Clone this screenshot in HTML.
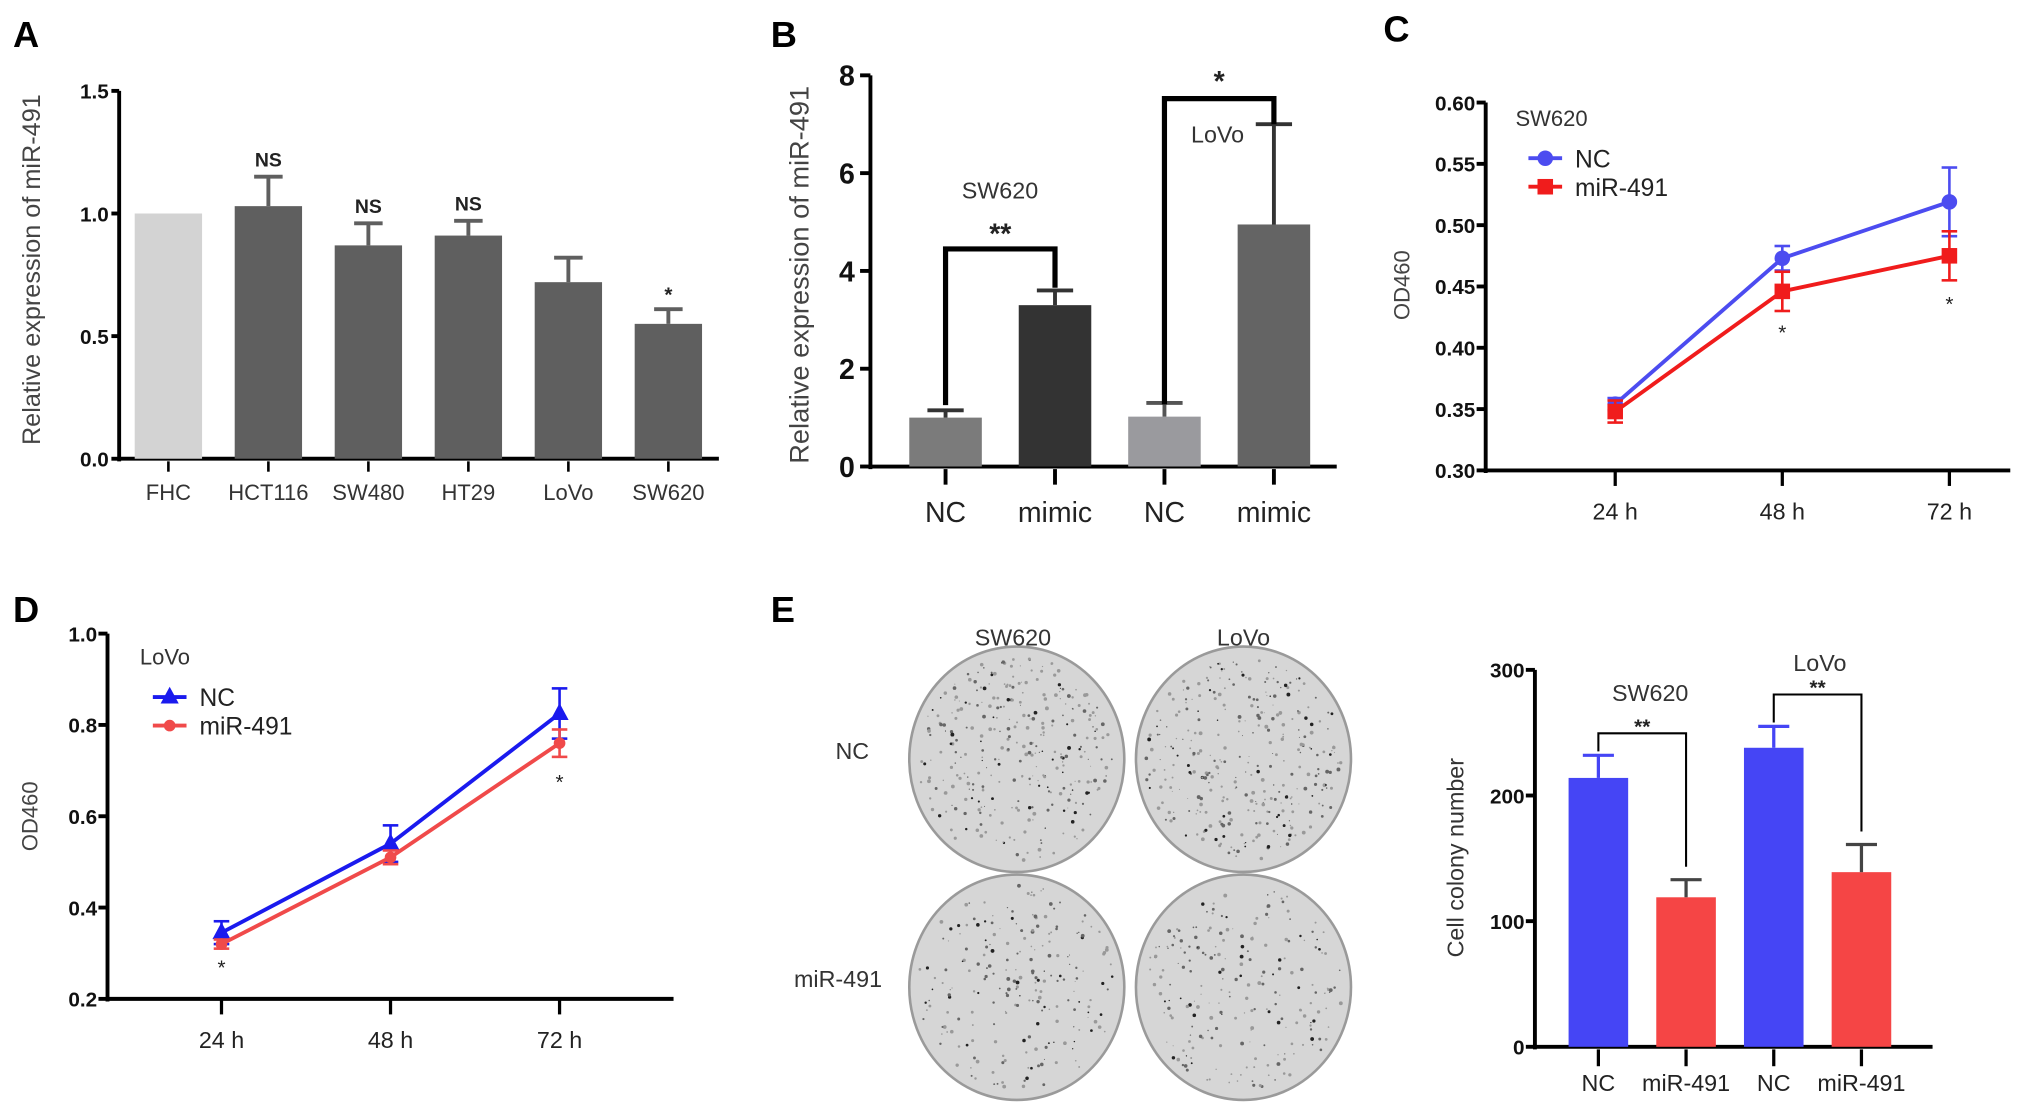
<!DOCTYPE html>
<html><head><meta charset="utf-8"><style>
html,body{margin:0;padding:0;background:#fff}
svg{display:block}
text{font-family:"Liberation Sans",sans-serif}
</style></head><body>
<svg id="fig" width="2031" height="1104" viewBox="0 0 1568 852" xmlns="http://www.w3.org/2000/svg">
<g id="root"></g>
</svg>
<script>
// ---- data ----
const aCats = ["FHC","HCT116","SW480","HT29","LoVo","SW620"];
const aVals = [1.0,1.03,0.87,0.91,0.72,0.55];
const aErr = [0,0.12,0.09,0.06,0.10,0.06];
const aSig = ["","NS","NS","NS","","*"];
const aTicks = [0,0.5,1.0,1.5];
const bCats = ["NC","mimic","NC","mimic"];
const bVals = [1.0,3.3,1.02,4.95];
const bErr = [0.15,0.3,0.28,2.05];
const bTicks = [0,2,4,6,8];
const cCats = ["24 h","48 h","72 h"];
const cNC = [0.354,0.473,0.519];
const cNCerr = [0.005,0.01,0.028];
const cMiR = [0.348,0.446,0.475];
const cMiRerr = [0.009,0.016,0.02];
const cTicks = [0.30,0.35,0.40,0.45,0.50,0.55,0.60];
const dCats = ["24 h","48 h","72 h"];
const dNC = [0.345,0.54,0.825];
const dNCerr = [0.025,0.04,0.055];
const dMiR = [0.32,0.51,0.76];
const dMiRerr = [0.01,0.015,0.03];
const dTicks = [0.2,0.4,0.6,0.8,1.0];
const eCats = ["NC","miR-491","NC","miR-491"];
const eVals = [214,119,238,139];
const eErr = [18,14,17,22];
const eTicks = [0,100,200,300];

const NS="http://www.w3.org/2000/svg";
const root=document.getElementById('root');
function el(tag,attrs,txt,parent){const e=document.createElementNS(NS,tag);for(const k in attrs)e.setAttribute(k,attrs[k]);if(txt!==undefined)e.textContent=txt;(parent||root).appendChild(e);return e;}
function lin(d0,d1,r0,r1){return v=>r0+(v-d0)*(r1-r0)/(d1-d0);}
function label(x,y,t,size,name,extra){const e=el('text',Object.assign({x:x,y:y,'font-size':size,'text-anchor':'middle',fill:'#222'},extra||{}),t);

return e;}
function line(x1,y1,x2,y2,c,w,name){const e=el('line',{x1:x1,y1:y1,x2:x2,y2:y2,stroke:c,'stroke-width':w});

return e;}
function errbar(x,y1,y2,hw,c,w,name){line(x,y1,x,y2,c,w,name);line(x-hw,y2,x+hw,y2,c,w,name+'-cap');}

// panel letters
[["A",10,36],["B",595,36],["C",1068,32],["D",10,480],["E",595,480]].forEach(p=>{label(p[1],p[2],p[0],28,'panel-label-'+p[0].toLowerCase(),{'font-weight':'bold','text-anchor':'start',fill:'#000'});});

// ---- Panel A ----
(function(){
const ax=92, y=lin(0,1.5,354,70); const xs=i=>130+i*77.2;
line(ax,70,ax,356,'#000',3,'a-y-axis');
line(ax,354,555,354,'#000',3,'a-x-axis');
aTicks.forEach(t=>{line(ax-6,y(t),ax,y(t),'#000',3,'a-y-tick');label(ax-8,y(t)+6,t.toFixed(1),16,'a-y-tick-label',{'text-anchor':'end','font-weight':'bold',fill:'#111'});});
aCats.forEach((c,i)=>{const x=xs(i);
const r=el('rect',{x:x-26,y:y(aVals[i]),width:52,height:354-y(aVals[i]),fill:i==0?'#d3d3d3':'#5f5f5f'});


if(aErr[i]>0)errbar(x,y(aVals[i]),y(aVals[i]+aErr[i]),11,'#5f5f5f',3,'a-error-bar');
if(aSig[i])label(x,y(aVals[i]+aErr[i])-(aSig[i]=='*'?6:8),aSig[i],aSig[i]=='*'?16:15,'a-significance',{'font-weight':'bold'});
line(x,356,x,364,'#000',2,'a-x-tick');
label(x,386,c,17,'a-x-label',{fill:'#333'});});
label(0,0,'Relative expression of miR-491',19.5,'a-y-axis-title',{transform:'translate(31,208) rotate(-90)',fill:'#444'});
})();

// ---- Panel B ----
(function(){
const ax=672, y=lin(0,8,360,58); const xs=i=>730+i*84.5;
line(ax,58,ax,362,'#000',3,'b-y-axis');
line(ax,360,1032,360,'#000',3,'b-x-axis');
bTicks.forEach(t=>{line(ax-8,y(t),ax,y(t),'#000',3,'b-y-tick');label(ax-12,y(t)+8,String(t),22,'b-y-tick-label',{'text-anchor':'end','font-weight':'bold',fill:'#111'});});
const cols=['#7b7b7b','#333333','#9a9a9e','#646464'];
bCats.forEach((c,i)=>{const x=xs(i);
const r=el('rect',{x:x-28,y:y(bVals[i]),width:56,height:360-y(bVals[i]),fill:cols[i]});


errbar(x,y(bVals[i]),y(bVals[i]+bErr[i]),14,i==2?'#555':'#333',3,'b-error-bar');
line(x,362,x,374,'#000',3,'b-x-tick');
label(x,403,c,22,'b-x-label',{fill:'#222'});});
const b1=192; el('path',{d:`M${xs(0)} ${y(bVals[0]+bErr[0])-4} V${b1} H${xs(1)} V${b1+30}`,fill:'none',stroke:'#000','stroke-width':4});
label((xs(0)+xs(1))/2,188,'**',22,'b-sig-sw620',{'font-weight':'bold'});
label(772,153,'SW620',18,'b-group-label-sw620',{fill:'#333'});
const b2=76; el('path',{d:`M${xs(2)} 312 V${b2} H${xs(3)} V${y(bVals[3]+bErr[3])}`,fill:'none',stroke:'#000','stroke-width':4});
label((xs(2)+xs(3))/2,70,'*',22,'b-sig-lovo',{'font-weight':'bold'});
label(940,110,'LoVo',18,'b-group-label-lovo',{fill:'#333'});
label(0,0,'Relative expression of miR-491',21,'b-y-axis-title',{transform:'translate(624,212) rotate(-90)',fill:'#444'});
})();

// ---- line chart helper ----
function lineChart(o){
const y=lin(o.ticks[0],o.ticks[o.ticks.length-1],o.y0,o.y1); const xs=i=>o.x0+i*o.dx;
line(o.ax,o.y1,o.ax,o.y0+2,'#000',3,o.p+'-y-axis');
line(o.ax,o.y0,o.xend,o.y0,'#000',3,o.p+'-x-axis');
o.ticks.forEach(t=>{line(o.ax-7,y(t),o.ax,y(t),'#000',3,o.p+'-y-tick');label(o.ax-8,y(t)+6,t.toFixed(o.dec),16,o.p+'-y-tick-label',{'text-anchor':'end','font-weight':'bold',fill:'#111'});});
o.cats.forEach((c,i)=>{line(xs(i),o.y0,xs(i),o.y0+12,'#000',2.5,o.p+'-x-tick');label(xs(i),o.y0+38,c,18,o.p+'-x-label',{fill:'#222'});});
const series=[[o.nc,o.ncErr,o.ncCol,o.ncM,'nc'],[o.mi,o.miErr,o.miCol,o.miM,'mir491']];
series.forEach(s=>{
const pts=s[0].map((v,i)=>xs(i)+','+y(v)).join(' ');
const pl=el('polyline',{points:pts,fill:'none',stroke:s[2],'stroke-width':3});


s[0].forEach((v,i)=>{line(xs(i),y(v-s[1][i]),xs(i),y(v+s[1][i]),s[2],2,o.p+'-error-bar');line(xs(i)-6,y(v+s[1][i]),xs(i)+6,y(v+s[1][i]),s[2],2,o.p+'-error-cap');line(xs(i)-6,y(v-s[1][i]),xs(i)+6,y(v-s[1][i]),s[2],2,o.p+'-error-cap');
marker(s[3],xs(i),y(v),s[2],o.p+'-point-'+s[4]);});
});
o.stars.forEach(st=>label(xs(st[0]),st[1],'*',16,o.p+'-significance',{fill:'#222'}));
label(o.legX-10,o.legY-25,o.title,17,o.p+'-legend-title',{'text-anchor':'start',fill:'#333'});
[[o.ncCol,o.ncM,'NC'],[o.miCol,o.miM,'miR-491']].forEach((l,k)=>{const ly=o.legY+k*22;
line(o.legX,ly,o.legX+26,ly,l[0],3,o.p+'-legend-line');marker(l[1],o.legX+13,ly,l[0],o.p+'-legend-marker');
label(o.legX+36,ly+7,l[2],19,o.p+'-legend-entry',{'text-anchor':'start',fill:'#222'});});
label(0,0,'OD460',17,o.p+'-y-axis-title',{transform:`translate(${o.ytx},${o.yty}) rotate(-90)`,fill:'#444'});
}
function marker(m,x,y,c,name){let e;
if(m=='circle')e=el('circle',{cx:x,cy:y,r:6,fill:c});
else if(m=='square')e=el('rect',{x:x-6,y:y-6,width:12,height:12,fill:c});
else if(m=='tri')e=el('polygon',{points:`${x},${y-8} ${x-7},${y+5} ${x+7},${y+5}`,fill:c});
else e=el('circle',{cx:x,cy:y,r:4.5,fill:c});

}

lineChart({p:'c',ax:1147,y0:363,y1:79,x0:1247,dx:129,xend:1552,ticks:cTicks,dec:2,cats:cCats,
nc:cNC,ncErr:cNCerr,mi:cMiR,miErr:cMiRerr,ncCol:'#4c4cf0',miCol:'#f01c1c',ncM:'circle',miM:'square',
stars:[[1,262],[2,240]],legX:1180,legY:122,title:'SW620',ytx:1088,yty:220});
lineChart({p:'d',ax:83,y0:771,y1:489,x0:171,dx:130.5,xend:520,ticks:dTicks,dec:1,cats:dCats,
nc:dNC,ncErr:dNCerr,mi:dMiR,miErr:dMiRerr,ncCol:'#1a1aee',miCol:'#f04a4a',ncM:'tri',miM:'dot',
stars:[[0,752],[2,609]],legX:118,legY:538,title:'LoVo',ytx:29,yty:630});

// ---- Panel E plates ----
(function(){
let seed=7; const rnd=()=>{seed=(seed*16807)%2147483647;return seed/2147483647;};
const plates=[[785,586,'sw620-nc'],[960,586,'lovo-nc'],[785,762,'sw620-mir491'],[960,762,'lovo-mir491']];
plates.forEach(p=>{const g=el('g',{});


el('ellipse',{cx:p[0],cy:p[1],rx:83,ry:87,fill:'#d6d6d6',stroke:'#9a9a9a','stroke-width':2},undefined,g);
const n=p[2].includes('nc')?320:220;
for(let i=0;i<n;i++){const a=rnd()*Math.PI*2,r=Math.sqrt(rnd())*78;const s=0.4+rnd()*1.1;const d=rnd();
el('circle',{cx:p[0]+Math.cos(a)*r*0.98,cy:p[1]+Math.sin(a)*r*1.02,r:s,fill:d<0.15?'#222':(d<0.5?'#666':'#999')},undefined,g);}
});
label(782,498,'SW620',18,'e-plate-col-sw620',{fill:'#333'});
label(960,498,'LoVo',18,'e-plate-col-lovo',{fill:'#333'});
label(658,586,'NC',18,'e-plate-row-nc',{fill:'#333'});
label(647,762,'miR-491',18,'e-plate-row-mir491',{fill:'#333'});
})();

// ---- Panel E bar chart ----
(function(){
const ax=1185, y=lin(0,300,808,517); const xs=i=>1234+i*67.7;
line(ax,517,ax,810,'#000',3,'e-y-axis');
line(ax,808,1492,808,'#000',3,'e-x-axis');
eTicks.forEach(t=>{line(ax-7,y(t),ax,y(t),'#000',3,'e-y-tick');label(ax-8,y(t)+6,String(t),16,'e-y-tick-label',{'text-anchor':'end','font-weight':'bold',fill:'#111'});});
eCats.forEach((c,i)=>{const x=xs(i);const col=i%2==0?'#4545f5':'#f54545';
const r=el('rect',{x:x-23,y:y(eVals[i]),width:46,height:808-y(eVals[i]),fill:col});


errbar(x,y(eVals[i]),y(eVals[i]+eErr[i]),12,i%2==0?'#4545f5':'#444',2.5,'e-error-bar');
line(x,810,x,823,'#000',2.5,'e-x-tick');
label(x,842,c,18,'e-x-label',{fill:'#222'});});
el('path',{d:`M${xs(0)} ${y(eVals[0]+eErr[0])-3} V566 H${xs(1)} V${y(eVals[1]+eErr[1])-10}`,fill:'none',stroke:'#000','stroke-width':1.6});
label((xs(0)+xs(1))/2,566,'**',16,'e-sig-sw620',{'font-weight':'bold'});
el('path',{d:`M${xs(2)} ${y(eVals[2]+eErr[2])-3} V536 H${xs(3)} V${y(eVals[3]+eErr[3])-10}`,fill:'none',stroke:'#000','stroke-width':1.6});
label((xs(2)+xs(3))/2,536,'**',16,'e-sig-lovo',{'font-weight':'bold'});
label(1274,541,'SW620',18,'e-group-label-sw620',{fill:'#333'});
label(1405,518,'LoVo',18,'e-group-label-lovo',{fill:'#333'});
label(0,0,'Cell colony number',18,'e-y-axis-title',{transform:'translate(1130,662) rotate(-90)',fill:'#333'});
})();
</script>
</body></html>
